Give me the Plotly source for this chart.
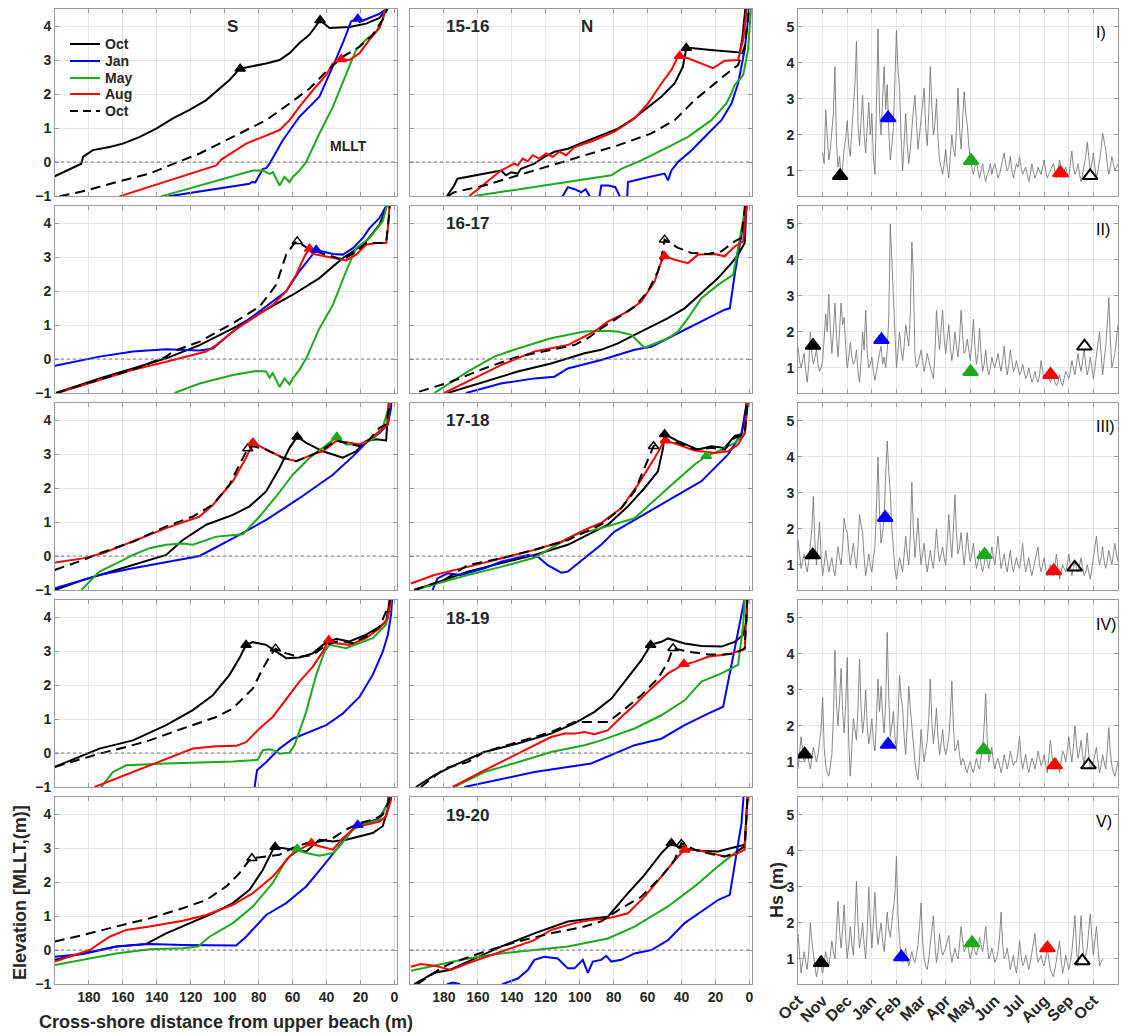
import plotly.graph_objects as go

# ======================= DATA =======================
SURVEY_KEYS = ['OCT', 'JAN', 'MAY', 'AUG', 'OCT2']
SURVEY_NAMES = ['Oct', 'Jan', 'May', 'Aug', 'Oct']
SURVEY_COLORS = ['#000000', '#0000FF', '#1AAA1A', '#FF0000', '#000000']
YEAR_LABELS = ['15-16', '16-17', '17-18', '18-19', '19-20']
ROMAN = ['I)', 'II)', 'III)', 'IV)', 'V)']
MONTHS = ['Oct', 'Nov', 'Dec', 'Jan', 'Feb', 'Mar', 'Apr', 'May', 'Jun', 'Jul', 'Aug', 'Sep', 'Oct']
DIST_TICKS = [0, 20, 40, 60, 80, 100, 120, 140, 160, 180]
ELEV_TICKS = [-1, 0, 1, 2, 3, 4]
HS_TICKS = [1, 2, 3, 4, 5]

# ---- beach profiles: (cross-shore distance m, elevation m MLLT) ----
# 2015-16 South
S15_OCT = [(200.2,-0.42),(184.5,-0.05),(183.5,0.15),(177.7,0.35),(167.8,0.44),(160,0.54),(150,0.74),(140.4,0.98),(130.5,1.28),(120.7,1.53),(110.9,1.82),(103,2.17),(97.2,2.41),(91.3,2.74),(83.4,2.81),(75.6,2.9),(67.7,3.0),(61.8,3.2),(56,3.5),(50,3.75),(43.8,4.17),(38.3,3.94),(26.5,3.97),(16.7,4.07),(8.8,4.24),(4.9,4.48),(2.9,4.8)]
S15_JAN = [(133.1,-1.01),(85.4,-0.64),(84,-0.59),(82,-0.6),(77.5,-0.2),(75.5,-0.18),(73.6,-0.05),(65.8,0.64),(56,1.33),(44.2,1.92),(36.3,2.81),(30.4,3.5),(25.5,4.14),(21.6,4.21),(20.5,4.12),(8.8,4.36),(4.9,4.5),(3,4.8)]
S15_MAY = [(137.4,-1.01),(83.4,-0.25),(77.5,-0.25),(73.6,-0.35),(71.6,-0.3),(67.7,-0.69),(64.8,-0.44),(61.8,-0.59),(59.9,-0.44),(56,-0.25),(52,0),(44.2,0.84),(36.3,1.62),(28.5,2.61),(22.6,3.3),(16.7,3.6),(10.8,3.84),(6.9,4.19),(4.9,4.53),(4,4.8)]
S15_AUG = [(162,-1.01),(105,-0.1),(102,0.07),(95.2,0.3),(87.4,0.54),(77.5,0.74),(67.7,0.94),(61.8,1.23),(56,1.62),(48.1,2.11),(40.2,2.56),(36.3,2.9),(32.4,3.02),(26.5,3.0),(20.6,3.2),(14.7,3.6),(8.8,3.94),(4.9,4.5),(4,4.8)]
S15_OCT2 = [(197.3,-1.01),(181.6,-0.84),(163.9,-0.59),(144.3,-0.34),(128.6,-0.02),(114.8,0.25),(95.2,0.74),(75.6,1.23),(61.8,1.72),(50,2.16),(40.2,2.66),(30.4,3.1),(20.6,3.39),(12.8,3.74),(6.9,4.19),(3.9,4.53),(3,4.8)]
S15_CRESTS = [(90.9,2.74,'OCT'),(43.8,4.17,'OCT'),(21.6,4.21,'JAN'),(31.4,3.02,'AUG')]
# 2015-16 North
N15_OCT = [(178.2,-1),(174,-0.69),(172,-0.49),(146.4,-0.25),(143.4,-0.39),(140.4,-0.3),(136.5,-0.34),(134.6,-0.2),(126.7,-0.05),(120.8,0.15),(114.9,0.3),(107,0.39),(97.2,0.59),(87.4,0.79),(77.5,0.98),(69.6,1.23),(61.8,1.53),(51.9,1.92),(44.1,2.31),(39.2,2.8),(37.2,3.35),(34.2,3.35),(24.4,3.3),(5.7,3.22),(4.3,3.6),(2.8,4.28),(1.8,4.8)]
N15_JAN = [(112,-1.3),(110,-1.0),(107,-0.74),(103,-0.8),(99.2,-0.89),(96.5,-0.8),(94.2,-1.0),(92,-1.4),(89,-1.2),(87.3,-0.69),(83,-0.69),(79,-0.74),(76.5,-1.0),(74,-1.4),(72,-1.0),(71.6,-0.59),(63.7,-0.49),(50,-0.34),(48,-0.54),(46,-0.25),(42.1,0),(34.2,0.34),(24.4,0.84),(16.5,1.23),(10.6,1.72),(6.7,2.31),(2.8,3.3),(0,4.38),(-0.5,4.8)]
N15_MAY = [(162.1,-1),(81.4,-0.39),(75.5,-0.2),(63.7,0.05),(48,0.44),(36.2,0.74),(22.4,1.23),(13.6,1.72),(10.6,2.02),(8.7,2.26),(3.7,2.56),(0.8,3.3),(-0.7,4.38),(-1,4.8)]
N15_AUG = [(165,-1),(156.2,-0.64),(146.4,-0.25),(138.5,-0.05),(136.5,-0.1),(133.6,0.1),(130.6,0.02),(127.7,0.2),(123.8,0.1),(119.8,0.25),(115.9,0.15),(112,0.3),(108,0.2),(103.1,0.44),(91.3,0.64),(79.5,0.89),(67.7,1.28),(59.8,1.72),(51.9,2.31),(46,2.71),(42.1,3.1),(36.2,3.05),(28.3,2.9),(21.4,2.76),(14.6,2.98),(6.7,3.0),(3.7,3.6),(1.8,4.38),(0.8,4.8)]
N15_OCT2 = [(177.8,-1),(174,-0.89),(156.2,-0.69),(136.5,-0.39),(116.9,-0.1),(97.2,0.2),(77.5,0.49),(57.8,0.84),(44.1,1.23),(32.3,1.82),(20.5,2.31),(10.6,2.71),(6.7,2.85),(2.8,3.4),(0.8,4.28),(0.3,4.8)]
N15_CRESTS = [(37.2,3.35,'OCT'),(41.1,3.12,'AUG')]
# 2016-17 South
S16_OCT = [(199.3,-1),(173.8,-0.57),(154.1,-0.28),(134.5,0.02),(114.8,0.41),(95.2,0.9),(75.6,1.45),(59.9,1.89),(44.2,2.38),(36.3,2.72),(30.4,2.97),(24.5,3.16),(16.7,3.46),(8.8,3.95),(4.9,4.44),(3.5,4.8)]
S16_JAN = [(200.2,-0.2),(183.5,-0.03),(173.8,0.07),(154.1,0.22),(134.5,0.29),(114.8,0.25),(107,0.31),(95.2,0.81),(83.4,1.25),(71.7,1.69),(63.8,1.99),(56,2.58),(50,2.97),(46.1,3.21),(36.3,3.09),(30.4,3.07),(24.5,3.26),(18.6,3.56),(14.7,3.85),(8.8,4.15),(4.9,4.5),(3,4.8)]
S16_MAY = [(129.6,-1),(114.8,-0.72),(95.2,-0.47),(81.5,-0.35),(75.6,-0.37),(73.6,-0.55),(71.7,-0.42),(67.7,-0.82),(64.8,-0.57),(61.8,-0.75),(59.9,-0.57),(56,-0.32),(52,0.02),(44.2,0.9),(36.3,1.59),(28.5,2.58),(22.6,3.26),(14.7,3.56),(6.9,4.05),(3.9,4.54),(3,4.8)]
S16_AUG = [(199.3,-1.01),(173.8,-0.62),(154.1,-0.32),(134.5,-0.08),(110.9,0.22),(105,0.41),(95.2,0.81),(83.4,1.2),(71.7,1.59),(63.8,1.99),(57.9,2.48),(53,3.02),(50,3.24),(48.1,3.09),(40.2,3.02),(28.5,2.9),(22.6,3.07),(16.7,3.36),(10.8,3.41),(4.9,3.41),(3.9,3.85),(2.9,4.54),(2.5,4.8)]
S16_OCT2 = [(199.3,-1),(181.6,-0.72),(154.1,-0.32),(134.5,0.07),(130.5,0.22),(114.8,0.51),(95.2,1.05),(79.5,1.54),(69.7,2.18),(63.8,3.07),(58.9,3.41),(57.3,3.46),(50,3.22),(40.2,3.07),(30.4,2.92),(22.6,3.16),(16.7,3.41),(10.8,3.41),(4.9,3.41),(2.9,4.34),(2.5,4.8)]
S16_CRESTS = [(50,3.24,'AUG'),(46.1,3.21,'JAN'),(57.3,3.46,'OCT2')]
# 2016-17 North
N16_OCT = [(177.8,-1),(156.2,-0.67),(136.5,-0.37),(116.9,-0.13),(97.2,0.17),(87.4,0.27),(77.5,0.46),(67.7,0.71),(57.8,0.95),(48,1.2),(38.2,1.49),(28.3,1.94),(18.5,2.38),(10.6,2.82),(6.7,3.07),(2.8,3.41),(1.8,4.4),(1.5,4.8)]
N16_JAN = [(167,-1),(146.4,-0.72),(126.7,-0.57),(114.9,-0.52),(107,-0.28),(87.4,-0.03),(67.7,0.27),(57.8,0.36),(48,0.61),(36.2,0.9),(24.4,1.2),(14.6,1.45),(11.6,1.49),(8.7,2.48),(4.7,3.66),(0.8,4.8)]
N16_MAY = [(185.7,-1),(166,-0.37),(150.3,0.07),(136.5,0.31),(116.9,0.61),(97.2,0.81),(87.4,0.83),(77.5,0.81),(69.6,0.71),(61.8,0.33),(48,0.61),(42.1,0.81),(36.2,1.2),(28.3,1.79),(18.5,2.18),(9.6,2.48),(6.7,3.27),(2.8,4.25),(1.2,4.8)]
N16_AUG = [(179.8,-1),(166,-0.67),(146.4,-0.18),(126.7,0.22),(107,0.41),(91.3,0.81),(83.4,1.1),(71.6,1.4),(63.7,1.69),(55.9,2.28),(51.9,2.87),(50,3.02),(44.1,2.92),(36.2,2.82),(30.3,3.07),(20.5,3.09),(14.6,3.02),(8.7,3.31),(3.7,3.46),(1.8,4.4),(1.5,4.8)]
N16_OCT2 = [(194.6,-0.96),(175.9,-0.67),(156.2,-0.28),(136.5,0.07),(116.9,0.27),(103.1,0.41),(95.2,0.61),(87.4,0.9),(79.5,1.15),(67.7,1.54),(59.8,1.99),(53.9,2.58),(51.9,2.97),(50,3.51),(42.1,3.27),(34.2,3.12),(24.4,3.09),(16.5,3.17),(8.7,3.46),(4.7,3.56),(2.8,4.44),(2.3,4.8)]
N16_CRESTS = [(50,3.02,'AUG'),(50,3.51,'OCT2')]
# 2017-18 South
S17_OCT = [(200.2,-1),(183.5,-0.71),(163.9,-0.41),(134.5,0.03),(124.7,0.47),(110.9,0.92),(95.2,1.21),(85.4,1.46),(75.6,1.9),(67.7,2.59),(61.8,3.18),(57.3,3.51),(52,3.33),(42.2,3.08),(30.4,2.89),(22.6,3.08),(16.7,3.38),(10.8,3.43),(4.9,3.4),(3.3,4.46),(3,4.8)]
S17_JAN = [(200.2,-0.95),(183.5,-0.71),(173.8,-0.56),(154.1,-0.36),(134.5,-0.17),(114.8,0),(95.2,0.52),(75.6,1.06),(56,1.7),(36.3,2.39),(24.5,2.93),(16.7,3.33),(8.8,3.62),(3.9,3.87),(2,4.36),(1.5,4.8)]
S17_MAY = [(184.5,-1),(173.8,-0.46),(162,-0.17),(154.1,0.03),(144.3,0.23),(134.5,0.33),(124.7,0.37),(118.8,0.33),(105,0.57),(95.2,0.62),(89.3,0.64),(79.5,1.16),(69.7,1.75),(59.9,2.39),(50,2.89),(42.2,3.18),(34.4,3.48),(28.5,3.28),(20.6,3.28),(12.8,3.43),(6.9,3.77),(2.9,4.46),(2.5,4.8)]
S17_AUG = [(200.2,-0.19),(183.5,-0.07),(171.8,0.08),(154.1,0.42),(134.5,0.82),(114.8,1.16),(107,1.5),(95.2,2.2),(87.4,2.89),(83.4,3.33),(75.6,3.13),(65.8,2.89),(57.9,2.79),(48.1,2.99),(42.2,3.08),(34.4,3.38),(26.5,3.33),(20.6,3.28),(14.7,3.43),(8.8,3.67),(3.9,3.87),(2.9,4.46),(2.5,4.8)]
S17_OCT2 = [(200.2,-0.41),(183.5,-0.12),(173.8,0.08),(154.1,0.42),(134.5,0.87),(118.8,1.16),(107,1.51),(97.2,2.1),(91.3,2.69),(87.4,3.08),(86.4,3.16),(83.4,3.23),(75.6,3.13),(65.8,2.89),(57.9,2.79),(50,2.94),(42.2,3.13),(34.4,3.4),(28.5,3.33),(20.6,3.23),(14.7,3.43),(8.8,3.77),(4.9,3.87),(2.9,4.46),(2.5,4.8)]
S17_CRESTS = [(86.4,3.16,'OCT2'),(83.4,3.33,'AUG'),(57.3,3.51,'OCT'),(34,3.5,'MAY')]
# 2017-18 North
N17_OCT = [(197.5,-1),(185.7,-0.81),(166,-0.46),(146.4,-0.22),(126.7,0.03),(107,0.33),(95.2,0.62),(83.4,0.92),(71.6,1.46),(61.8,2.0),(53.9,2.49),(50.9,3.18),(50,3.58),(42.1,3.38),(30.3,3.13),(22.4,3.23),(14.6,3.18),(8.7,3.53),(4.7,3.58),(1.8,4.46),(1.5,4.8)]
N17_JAN = [(186.7,-1),(183.8,-0.66),(177.8,-0.51),(170,-0.56),(156.2,-0.36),(146.4,-0.17),(130.6,0.03),(124.7,-0.02),(118.8,-0.27),(110.9,-0.49),(107,-0.46),(97.2,-0.07),(87.4,0.33),(79.5,0.72),(67.7,1.06),(48,1.61),(28.3,2.2),(12.6,2.99),(4.7,3.6),(1,4.46),(0.7,4.8)]
N17_MAY = [(197.5,-1),(166,-0.56),(146.4,-0.32),(126.7,-0.05),(116.9,0.23),(103.1,0.62),(87.4,0.82),(67.7,1.11),(48,2.0),(32.3,2.69),(25.4,2.94),(18.5,3.08),(8.7,3.33),(2.8,3.58),(1,4.46),(0.7,4.8)]
N17_AUG = [(199.5,-0.81),(185.7,-0.56),(166,-0.32),(146.4,-0.07),(126.7,0.18),(110.9,0.42),(97.2,0.77),(87.4,0.97),(75.5,1.41),(65.7,2.1),(55.8,2.89),(50,3.4),(42.1,3.28),(32.3,3.1),(20.5,3.03),(12.6,3.08),(6.7,3.28),(2.8,3.62),(1,4.46),(0.7,4.8)]
N17_OCT2 = [(197.5,-1),(179.8,-0.7),(166,-0.27),(146.4,-0.07),(126.7,0.18),(107,0.47),(87.4,0.92),(75.5,1.41),(67.7,1.9),(61.8,2.59),(56.9,3.13),(56.5,3.23),(50,3.43),(42.1,3.33),(32.3,3.13),(22.4,3.18),(14.6,3.13),(8.7,3.48),(2.8,3.58),(1,4.46),(0.7,4.8)]
N17_CRESTS = [(56.5,3.23,'OCT2'),(49.5,3.4,'AUG'),(50,3.58,'OCT'),(25.4,2.94,'MAY')]
# 2018-19 South
S18_OCT = [(200.2,-0.41),(183.5,-0.07),(173.8,0.13),(154.1,0.37),(134.5,0.82),(118.8,1.26),(107,1.7),(97.2,2.3),(91.3,2.79),(87.4,3.18),(83.4,3.26),(75.6,3.18),(67.7,2.93),(63.8,2.79),(56,2.81),(48.1,2.93),(42.2,3.18),(34.4,3.36),(26.5,3.28),(16.7,3.48),(8.8,3.71),(4.9,3.86),(2.9,4.45),(2.5,4.8)]
S18_JAN = [(82.4,-1),(81,-0.51),(75.6,-0.27),(67.7,0.13),(59.9,0.42),(50,0.62),(40.2,0.82),(30.4,1.16),(20.6,1.65),(12.8,2.3),(6.9,2.98),(3.9,3.47),(2,4.06),(1,4.8)]
S18_MAY = [(172.8,-1),(165.9,-0.56),(158.1,-0.36),(134.5,-0.31),(95.2,-0.25),(80.5,-0.2),(77.5,0.08),(73.6,0.11),(69.7,0.05),(67.7,-0.02),(61.8,0.01),(58.9,0.23),(52,1.21),(46.1,2.3),(41.2,2.98),(38.3,3.18),(28.5,3.08),(20.6,3.23),(12.8,3.38),(4.9,3.78),(2,4.45),(1.7,4.8)]
S18_AUG = [(176.7,-1),(154.1,-0.56),(134.5,-0.17),(118.8,0.13),(105,0.2),(93.3,0.21),(87.4,0.32),(79.5,0.72),(71.7,1.06),(63.8,1.6),(56,2.1),(48.1,2.54),(42.2,2.98),(38.7,3.32),(34.4,3.23),(26.5,3.18),(16.7,3.38),(8.8,3.67),(3.9,3.96),(2,4.5),(1.7,4.8)]
S18_OCT2 = [(200.2,-0.41),(183.5,-0.17),(173.8,-0.02),(158.1,0.18),(144.3,0.37),(124.7,0.72),(105,1.06),(95.2,1.31),(83.4,1.9),(77.5,2.49),(73.6,2.83),(70.1,3.07),(63.8,2.93),(56,2.83),(48.1,2.88),(40.2,3.18),(32.4,3.3),(24.5,3.23),(16.7,3.43),(8.8,3.71),(2.9,4.4),(2.5,4.8)]
S18_CRESTS = [(87.4,3.18,'OCT'),(70.1,3.07,'OCT2'),(38.7,3.32,'AUG')]
# 2018-19 North
N18_OCT = [(196.5,-1),(185.7,-0.66),(175.9,-0.41),(156.2,0.03),(136.5,0.28),(116.9,0.57),(103.1,0.87),(91.3,1.21),(81.3,1.6),(71.6,2.24),(63.7,2.73),(58.2,3.18),(51.9,3.27),(48,3.37),(38.2,3.22),(28.3,3.15),(16.5,3.13),(8.7,3.27),(3.7,3.47),(1.8,3.86),(1,4.8)]
N18_JAN = [(168,-1),(146.4,-0.76),(126.7,-0.56),(93.3,-0.31),(81.4,-0.07),(67.7,0.23),(51.9,0.42),(38.2,0.82),(24.4,1.16),(15.5,1.36),(2.8,4.55),(2.5,4.8)]
N18_MAY = [(173.9,-1),(156.2,-0.56),(136.5,-0.27),(116.9,0.03),(97.2,0.23),(87.4,0.37),(67.7,0.72),(51.9,1.11),(38.2,1.55),(28.3,2.1),(16.5,2.34),(6.7,2.59),(3.7,3.76),(2.5,4.8)]
N18_AUG = [(174.9,-1),(156.2,-0.51),(136.5,-0.02),(116.9,0.47),(108.8,0.57),(103.1,0.57),(97.2,0.62),(91.3,0.55),(83.4,0.67),(75.5,1.06),(67.7,1.41),(57.8,1.9),(48,2.34),(39.2,2.59),(32.3,2.68),(24.4,2.83),(16.5,2.88),(10.6,2.93),(2.8,3.05),(1.2,4.8)]
N18_OCT2 = [(193.6,-1),(179.8,-0.46),(166,-0.27),(156.2,0.03),(136.5,0.32),(116.9,0.62),(103.1,0.91),(83.4,0.91),(75.5,1.21),(63.7,1.7),(53.9,2.19),(48,2.68),(45,3.08),(36.2,2.98),(24.4,2.9),(14.6,2.9),(8.7,2.93),(2.8,3.08),(1,4.8)]
N18_CRESTS = [(58.2,3.18,'OCT'),(45,3.08,'OCT2'),(38.6,2.62,'AUG')]
# 2019-20 South
S19_OCT = [(200.2,-0.29),(183.5,-0.1),(163.9,0.1),(146.2,0.18),(134.5,0.49),(118.8,0.84),(107,1.08),(95.2,1.38),(85.4,1.77),(77.5,2.36),(71.7,2.95),(70.3,3.03),(65.8,3.0),(59.9,2.95),(52,2.9),(44.2,3.24),(36.3,3.19),(28.5,3.24),(20.6,3.34),(12.8,3.44),(6.9,3.64),(2.9,4.32),(2.5,4.8)]
S19_JAN = [(200.2,-0.2),(183.5,-0.12),(163.9,0.1),(144.3,0.18),(124.7,0.15),(105,0.15),(93.3,0.13),(87.4,0.39),(75.6,1.03),(63.8,1.38),(52,1.87),(42.2,2.46),(34.4,2.95),(28.5,3.34),(22.6,3.68),(16.7,3.73),(8.8,3.88),(3.9,4.32),(3,4.8)]
S19_MAY = [(200.2,-0.44),(183.5,-0.28),(163.9,-0.1),(144.3,0.02),(124.7,0.05),(115.8,0.1),(109,0.39),(95.2,0.79),(83.4,1.28),(71.7,1.97),(63.8,2.65),(57.9,2.95),(52,2.85),(44.2,2.77),(36.3,2.85),(32.4,3.05),(24.5,3.54),(16.7,3.73),(8.8,3.83),(2.9,4.42),(2.5,4.8)]
S19_AUG = [(200.2,-0.34),(179.6,0),(167.8,0.39),(158,0.59),(144.3,0.69),(124.7,0.86),(110.9,1.03),(95.2,1.33),(83.4,1.67),(71.7,2.16),(61.8,2.75),(56,2.95),(48.9,3.14),(44.2,3.05),(36.3,2.95),(30.4,3.29),(22.6,3.63),(16.7,3.68),(8.8,3.78),(4.9,3.93),(2,4.42),(1.7,4.8)]
S19_OCT2 = [(200.2,0.25),(183.5,0.44),(163.9,0.69),(144.3,0.93),(124.7,1.23),(110.9,1.47),(99.1,1.87),(91.3,2.26),(85.4,2.65),(84,2.7),(75.6,2.75),(67.7,2.8),(59.9,3.0),(52,3.14),(44.2,3.19),(36.3,3.29),(28.5,3.54),(20.6,3.73),(12.8,3.83),(6.9,3.98),(2.9,4.42),(2.5,4.8)]
S19_CRESTS = [(84,2.7,'OCT2'),(70.3,3.03,'OCT'),(57.3,2.97,'MAY'),(48.9,3.14,'AUG'),(21.6,3.68,'JAN')]
# 2019-20 North
N19_OCT = [(197.5,-1),(185.7,-0.67),(176.9,-0.59),(166,-0.34),(146.4,0.1),(126.7,0.49),(107,0.84),(97.2,0.9),(83.4,0.98),(71.6,1.67),(61.8,2.21),(51.9,2.85),(46,3.14),(42.1,3.03),(36.2,2.97),(28.3,2.92),(18.5,2.9),(10.6,3.0),(2.8,3.1),(0.8,4.8)]
N19_JAN = [(180,-1.2),(177.8,-1),(174.9,-0.96),(171,-1),(165,-1.5),(150,-1.5),(145.4,-1),(136.5,-0.84),(130.6,-0.59),(126.7,-0.29),(120.8,-0.2),(113,-0.25),(107,-0.54),(103.1,-0.54),(98.2,-0.29),(95.2,-0.67),(92.3,-0.34),(87.4,-0.29),(84.4,-0.17),(81.4,-0.34),(75.5,-0.29),(67.7,-0.1),(57.8,0),(48,0.29),(38.2,0.79),(28.3,1.13),(18.5,1.47),(11.6,1.62),(8.7,2.46),(4.7,3.73),(3,4.8)]
N19_MAY = [(199.5,-0.61),(185.7,-0.46),(166,-0.25),(146.4,-0.1),(126.7,0),(107,0.1),(83.4,0.34),(67.7,0.69),(48,1.28),(32.3,1.87),(18.5,2.46),(8.7,2.85),(2.8,3.05),(0.8,4.8)]
N19_AUG = [(199.5,-0.49),(193.6,-0.41),(185.7,-0.46),(175.9,-0.59),(166,-0.39),(146.4,-0.05),(126.7,0.29),(116.9,0.59),(103.1,0.79),(93.3,0.88),(83.4,0.93),(71.6,1.08),(61.8,1.57),(51.9,2.16),(42.1,2.75),(38.2,2.95),(32.3,2.95),(22.4,2.85),(14.6,2.75),(8.7,2.8),(2.8,2.95),(0.8,4.8)]
N19_OCT2 = [(195.6,-1),(181.8,-0.54),(175.9,-0.39),(156.2,-0.05),(136.5,0.25),(116.9,0.49),(97.2,0.69),(87.4,0.84),(75.5,1.23),(63.7,1.57),(51.9,2.16),(44.1,2.65),(40.1,3.14),(32.3,2.95),(22.4,2.82),(14.6,2.75),(8.7,2.85),(2.8,3.05),(0.8,4.8)]
N19_CRESTS = [(46,3.14,'OCT'),(40.1,3.12,'OCT2'),(38.2,2.95,'AUG')]

# ---- significant wave height Hs (m), sampled every 1/16 month (months after 1 Oct) ----
HS_STEP = 1 / 16
HS1_START = 1.0
HS1 = [1.5,1.2,2.7,1.9,1.3,1.6,2.1,2.6,3.9,1.8,1.1,1.4,0.85,1.1,1.6,1.9,
       2.4,1.7,1.4,2.2,2.8,3.4,4.6,2.3,1.7,2.4,3.1,2.0,1.5,2.2,2.9,2.0,
       2.6,1.4,0.9,2.8,4.95,2.6,2.0,3.0,3.9,2.7,3.4,2.1,1.3,1.7,2.2,3.5,
       4.9,3.8,3.3,1.9,1.0,1.8,2.6,1.7,1.2,1.6,2.3,2.7,3.1,2.2,1.6,2.0,
       2.5,2.9,3.3,2.2,1.7,2.6,3.9,2.8,2.0,2.3,3.0,1.9,1.3,1.1,0.9,1.2,
       1.6,1.1,0.8,1.4,2.0,1.6,1.4,2.1,3.3,2.2,1.6,2.4,3.2,2.6,2.3,1.7,
       1.3,1.1,0.9,1.1,1.3,1.0,0.8,1.0,1.2,0.9,0.7,0.9,1.0,1.2,0.9,1.1,
       1.2,1.0,0.8,0.9,1.1,1.3,1.5,1.2,1.0,1.1,1.4,1.0,0.8,1.0,1.2,1.1,
       1.4,1.1,0.9,1.0,1.1,0.9,0.7,0.9,1.2,1.0,0.8,0.9,1.1,1.0,0.9,1.1,
       1.3,1.0,0.8,0.9,1.0,1.1,1.2,1.0,0.8,1.0,1.3,1.1,0.9,1.0,1.1,0.9,
       0.8,1.2,1.55,1.1,0.9,1.0,1.2,0.9,0.7,0.9,1.1,1.4,1.8,1.3,1.0,1.2,
       1.5,1.1,0.8,1.0,1.3,1.6,2.05,1.8,1.6,1.2,0.9,1.1,1.4,1.2,1.0,1.1,1.2]
HS2_START = 0.0
HS2 = [1.6,1.2,1.0,1.2,1.4,0.9,0.6,1.1,2.0,1.4,1.1,1.3,1.5,1.1,0.9,1.0,
       1.2,1.8,2.5,2.0,3.05,2.1,1.4,2.0,2.8,1.9,1.3,2.0,2.8,2.2,2.4,1.6,
       1.0,1.3,1.7,1.3,1.1,1.2,1.5,0.9,0.6,1.2,2.0,1.5,2.6,1.4,1.0,1.1,
       1.3,0.9,0.65,0.9,1.2,1.4,1.6,1.1,1.3,1.0,1.5,2.4,5.0,4.0,3.0,1.7,
       1.0,1.5,2.0,1.5,1.2,1.6,2.2,1.9,1.6,2.5,4.5,3.5,1.4,1.0,1.1,1.3,
       1.5,1.2,0.9,1.1,1.4,1.2,1.0,0.8,0.7,1.4,2.6,2.0,1.5,2.1,2.6,1.8,
       1.4,1.8,2.2,1.6,1.2,1.5,2.0,1.6,1.3,1.8,2.6,1.9,1.4,1.5,1.8,1.5,
       1.2,1.7,2.35,1.6,1.1,1.4,2.1,1.4,0.9,1.1,1.5,1.0,0.8,1.0,1.3,1.1,
       1.0,1.2,1.4,1.1,0.9,1.2,1.6,1.1,0.8,1.1,1.5,1.2,0.9,1.0,1.2,1.0,
       0.8,0.9,1.1,0.9,0.7,0.8,1.0,0.8,0.6,0.7,0.9,0.7,0.6,0.8,1.2,0.9,
       0.7,0.8,0.9,0.7,0.6,0.7,0.8,0.6,0.5,0.6,0.8,0.6,0.5,0.7,0.9,0.8,
       0.7,0.9,1.2,1.0,0.8,1.1,1.4,1.1,0.9,1.2,1.5,1.1,0.8,1.0,1.3,1.0,
       0.7,1.0,1.4,1.7,2.0,1.3,0.8,1.2,1.6,2.2,2.95,1.8,1.0,1.2,1.4,1.8,2.2]
HS3_START = 0.0
HS3 = [1.7,1.2,0.9,1.1,1.3,1.0,0.8,1.1,1.5,2.0,2.9,1.6,1.0,1.5,2.2,1.2,
       0.7,1.0,1.4,1.1,0.8,1.0,1.2,0.9,0.7,1.1,1.5,1.2,1.0,1.5,2.3,2.0,
       1.9,1.4,1.0,1.3,1.6,1.2,0.9,1.5,2.4,2.1,1.9,1.2,0.7,1.0,1.3,1.0,
       0.8,1.2,1.5,2.6,4.0,2.4,1.6,1.9,2.3,3.5,4.45,3.6,3.0,2.0,1.4,0.9,
       0.6,0.9,1.2,1.0,0.8,1.3,1.8,1.3,1.0,1.8,3.3,2.0,1.2,1.7,2.3,1.5,
       1.0,1.3,1.6,1.1,0.8,1.1,1.4,1.1,0.9,1.4,2.0,1.4,1.1,1.3,1.5,1.2,
       1.0,1.6,2.4,1.7,1.2,2.0,2.95,1.9,1.3,1.5,1.9,1.4,1.0,1.4,1.9,1.4,
       1.1,1.3,1.6,1.2,0.9,1.1,1.4,1.0,0.8,1.0,1.3,1.1,0.9,1.2,1.5,1.2,
       1.0,1.4,1.8,1.3,0.9,1.1,1.3,1.0,0.8,1.1,1.4,1.0,0.8,1.0,1.2,1.0,
       0.9,1.2,1.6,1.1,0.8,1.0,1.2,0.9,0.7,0.9,1.1,1.3,1.5,1.0,0.8,1.0,
       1.2,0.9,0.7,0.9,1.0,0.8,0.7,1.0,1.3,0.9,0.6,0.8,1.0,0.9,0.8,1.0,
       1.3,1.0,0.7,0.9,1.1,0.9,0.8,1.0,1.2,0.9,0.7,0.8,1.0,0.8,0.6,0.9,
       1.2,1.5,1.8,1.3,1.0,1.2,1.5,1.1,0.9,1.1,1.4,1.2,1.0,1.3,1.6,1.3,1.1]
HS4_START = 0.0
HS4 = [0.8,1.2,1.7,1.3,1.0,1.1,1.3,1.0,0.8,1.1,1.4,1.2,1.0,1.2,1.5,1.9,
       2.8,1.4,0.9,0.7,0.6,0.9,1.2,2.2,4.1,2.6,2.0,2.7,3.6,2.4,1.8,2.6,
       3.9,1.5,0.6,1.4,2.2,1.9,1.6,2.5,3.85,2.5,1.8,2.2,3.0,2.0,1.5,1.8,
       2.2,1.6,1.3,2.2,3.3,2.4,3.1,2.3,1.8,2.7,4.6,2.8,1.7,2.0,2.4,1.7,
       1.3,2.2,3.4,2.8,2.5,1.7,1.2,2.0,3.1,2.5,2.0,1.4,1.0,0.7,0.5,1.1,
       1.9,1.4,1.0,1.3,1.6,2.2,3.3,2.1,1.5,1.9,2.5,1.7,1.2,1.5,1.9,1.4,
       1.2,1.4,1.7,2.3,3.25,2.0,1.3,1.4,1.6,1.2,0.9,1.1,1.0,0.8,0.7,0.9,
       1.0,0.8,0.7,0.9,1.1,0.9,0.8,1.1,1.4,2.0,2.9,1.6,1.0,1.2,1.4,1.0,
       0.8,1.0,1.1,0.9,0.7,0.9,1.2,1.0,0.8,1.0,1.3,1.1,0.9,1.0,1.0,1.3,
       1.7,1.1,0.8,1.0,1.2,0.9,0.7,0.9,1.1,1.0,0.8,1.0,1.3,1.1,0.9,1.0,
       1.2,0.9,0.7,1.1,1.6,1.2,0.9,1.0,1.1,0.9,0.7,1.0,1.3,1.2,1.0,1.3,
       1.7,1.3,1.0,1.4,2.0,1.5,1.1,1.3,1.6,1.2,0.9,1.3,1.8,1.2,0.8,0.9,
       1.0,1.2,1.4,1.0,0.7,0.9,1.2,1.0,0.8,1.3,1.95,1.3,0.9,0.7,0.6,0.8,1.0]
HS5_START = 0.0
HS5 = [1.7,1.1,0.6,0.9,1.2,0.9,0.7,1.2,2.0,1.5,1.1,0.8,0.5,0.7,1.0,0.8,
       0.6,0.9,1.2,1.0,0.8,1.1,1.5,1.2,1.0,1.7,2.6,1.8,1.3,1.8,2.5,1.6,
       1.0,1.4,1.9,1.4,1.1,2.0,3.15,2.0,1.3,1.6,2.0,1.4,1.0,1.8,3.0,2.0,
       1.3,2.0,2.85,1.9,1.4,1.7,2.0,1.5,1.2,1.7,2.3,1.8,1.6,2.0,2.4,2.8,
       3.85,2.2,1.5,1.1,0.9,1.1,1.3,1.0,0.8,1.0,1.2,1.0,0.9,1.1,1.4,1.9,
       2.55,1.5,1.0,0.8,0.7,1.0,1.4,1.8,2.2,1.4,0.9,1.2,1.7,1.3,1.1,1.2,
       1.3,1.5,1.65,1.2,0.9,1.1,1.3,1.1,1.0,1.4,1.9,1.5,1.2,1.3,1.5,1.2,
       1.0,1.2,1.4,1.2,1.1,1.3,1.6,1.4,1.2,1.5,1.9,1.4,1.0,1.1,1.3,1.1,
       0.9,1.0,1.2,1.6,2.3,1.4,1.0,1.1,1.3,1.0,0.7,0.9,1.1,0.8,0.6,1.0,
       1.5,1.1,0.8,0.9,1.1,0.9,0.7,0.9,1.2,1.4,1.7,1.2,0.9,1.0,1.1,0.9,
       0.8,1.0,1.3,1.0,0.7,0.6,0.5,0.7,1.0,1.2,1.5,1.0,0.6,0.8,1.1,0.9,
       0.7,0.9,1.2,1.7,2.2,1.3,0.8,1.5,2.2,1.4,1.0,1.1,1.3,1.8,2.25,1.6,
       1.1,1.5,1.9,1.3,0.8,0.9,1.0]
# survey dates (month index) and Hs at survey time
HS1_SURVEYS = [(1.71,0.86,'OCT'),(3.66,2.47,'JAN'),(7.03,1.28,'MAY'),(10.66,0.94,'AUG'),(11.87,0.86,'OCT2')]
HS2_SURVEYS = [(0.61,1.62,'OCT'),(3.39,1.78,'JAN'),(7.01,0.89,'MAY'),(10.26,0.81,'AUG'),(11.64,1.6,'OCT2')]
HS3_SURVEYS = [(0.6,1.27,'OCT'),(3.54,2.31,'JAN'),(7.58,1.28,'MAY'),(10.39,0.83,'AUG'),(11.24,0.93,'OCT2')]
HS4_SURVEYS = [(0.27,1.21,'OCT'),(3.66,1.48,'JAN'),(7.54,1.33,'MAY'),(10.43,0.91,'AUG'),(11.8,0.91,'OCT2')]
HS5_SURVEYS = [(0.94,0.89,'OCT'),(4.2,1.05,'JAN'),(7.07,1.44,'MAY'),(10.13,1.3,'AUG'),(11.55,0.94,'OCT2')]

# ======================= assemble =======================
SOUTH = [
    [S15_OCT, S15_JAN, S15_MAY, S15_AUG, S15_OCT2],
    [S16_OCT, S16_JAN, S16_MAY, S16_AUG, S16_OCT2],
    [S17_OCT, S17_JAN, S17_MAY, S17_AUG, S17_OCT2],
    [S18_OCT, S18_JAN, S18_MAY, S18_AUG, S18_OCT2],
    [S19_OCT, S19_JAN, S19_MAY, S19_AUG, S19_OCT2],
]
NORTH = [
    [N15_OCT, N15_JAN, N15_MAY, N15_AUG, N15_OCT2],
    [N16_OCT, N16_JAN, N16_MAY, N16_AUG, N16_OCT2],
    [N17_OCT, N17_JAN, N17_MAY, N17_AUG, N17_OCT2],
    [N18_OCT, N18_JAN, N18_MAY, N18_AUG, N18_OCT2],
    [N19_OCT, N19_JAN, N19_MAY, N19_AUG, N19_OCT2],
]
S_CRESTS = [S15_CRESTS, S16_CRESTS, S17_CRESTS, S18_CRESTS, S19_CRESTS]
N_CRESTS = [N15_CRESTS, N16_CRESTS, N17_CRESTS, N18_CRESTS, N19_CRESTS]
HS_SERIES = [(HS1_START, HS1), (HS2_START, HS2), (HS3_START, HS3), (HS4_START, HS4), (HS5_START, HS5)]
HS_MARKS = [HS1_SURVEYS, HS2_SURVEYS, HS3_SURVEYS, HS4_SURVEYS, HS5_SURVEYS]

COLOR_OF = dict(zip(SURVEY_KEYS, SURVEY_COLORS))

# ======================= layout geometry =======================
W, H = 1125, 1034
FONT = 'Liberation Sans, Arial, Helvetica, sans-serif'
TXT = '#262626'
COLX = [(55, 397), (410, 752), (798, 1118)]
ROW_TOP0, ROW_H, ROW_STEP = 9, 187, 197


def xdom(c):
    return [COLX[c][0] / W, COLX[c][1] / W]


def ydom(r):
    top = ROW_TOP0 + ROW_STEP * r
    return [1 - (top + ROW_H) / H, 1 - top / H]


def ax_id(r, c):
    return r * 3 + c + 1


fig = go.Figure()
layout = dict(width=W, height=H, margin=dict(l=0, r=0, t=0, b=0, autoexpand=False),
              paper_bgcolor='white', plot_bgcolor='white',
              font=dict(family=FONT, color=TXT),
              showlegend=False, shapes=[], annotations=[])

common_axis = dict(showline=True, linecolor='#9a9a9a', linewidth=1, mirror='ticks',
                   ticks='inside', ticklen=4, tickcolor='#9a9a9a', automargin=False,
                   showgrid=True, gridcolor='#e6e6e6', gridwidth=1, zeroline=False,
                   tickfont=dict(family=FONT, size=14, weight='bold', color=TXT))

for r in range(5):
    for c in range(3):
        i = ax_id(r, c)
        xa = 'xaxis' if i == 1 else f'xaxis{i}'
        ya = 'yaxis' if i == 1 else f'yaxis{i}'
        xr = 'x' if i == 1 else f'x{i}'
        yr = 'y' if i == 1 else f'y{i}'
        if c < 2:
            layout[xa] = dict(common_axis, domain=xdom(c), anchor=yr, range=[200, -1.5],
                              tickvals=DIST_TICKS, showticklabels=(r == 4))
            layout[ya] = dict(common_axis, domain=ydom(r), anchor=xr, range=[-1, 4.5],
                              tickvals=ELEV_TICKS, showticklabels=(c == 0))
            layout['shapes'].append(dict(type='line', xref=f'{xr} domain', yref=yr,
                                         x0=0, x1=1, y0=0, y1=0,
                                         line=dict(color='#777777', width=1, dash='dot'), layer='above'))
            profiles = SOUTH[r] if c == 0 else NORTH[r]
            crests = S_CRESTS[r] if c == 0 else N_CRESTS[r]
            for k, key in enumerate(SURVEY_KEYS):
                pts = profiles[k]
                fig.add_trace(go.Scatter(
                    x=[p[0] for p in pts], y=[p[1] for p in pts], mode='lines',
                    line=dict(color=COLOR_OF[key], width=2, dash='10px,6px' if key == 'OCT2' else 'solid'),
                    name=SURVEY_NAMES[k], showlegend=False,
                    xaxis=xr, yaxis=yr, hoverinfo='skip'))
            for (cx, cy, key) in crests:
                fig.add_trace(go.Scatter(
                    x=[cx], y=[cy], mode='markers',
                    marker=dict(symbol='triangle-up-open' if key == 'OCT2' else 'triangle-up',
                                size=9, color=COLOR_OF[key], line=dict(width=1.5, color=COLOR_OF[key])),
                    showlegend=False, xaxis=xr, yaxis=yr, hoverinfo='skip'))
        else:
            layout[xa] = dict(common_axis, domain=xdom(c), anchor=yr, range=[0, 13],
                              tickvals=list(range(13)), ticktext=MONTHS, tickangle=-45,
                              showticklabels=(r == 4))
            layout[xa]['tickfont'] = dict(family=FONT, size=16, weight='bold', color=TXT)
            layout[ya] = dict(common_axis, domain=ydom(r), anchor=xr, range=[0.3, 5.5],
                              tickvals=HS_TICKS, showticklabels=True)
            start, vals = HS_SERIES[r]
            fig.add_trace(go.Scatter(
                x=[start + j * HS_STEP for j in range(len(vals))], y=vals, mode='lines',
                line=dict(color='#7a7a7a', width=0.9), showlegend=False,
                xaxis=xr, yaxis=yr, hoverinfo='skip'))
            for (mx, my, key) in HS_MARKS[r]:
                fig.add_trace(go.Scatter(
                    x=[mx], y=[my], mode='markers',
                    marker=dict(symbol='triangle-up-open' if key == 'OCT2' else 'triangle-up',
                                size=13, color=COLOR_OF[key], line=dict(width=2, color=COLOR_OF[key])),
                    showlegend=False, xaxis=xr, yaxis=yr, hoverinfo='skip'))


def ann(text, px, py, size, bold=True, xanchor='center', yanchor='middle', angle=0):
    layout['annotations'].append(dict(
        text=text, x=px / W, y=1 - py / H, xref='paper', yref='paper', showarrow=False,
        xanchor=xanchor, yanchor=yanchor, textangle=angle,
        font=dict(family=FONT, size=size, color=TXT if bold else '#000000',
                  weight='bold' if bold else 'normal')))


# legend (first panel): line samples and labels
LEG_Y = [44, 61, 78, 94, 111]
for k, key in enumerate(SURVEY_KEYS):
    layout['shapes'].append(dict(type='line', xref='paper', yref='paper',
                                 x0=70 / W, x1=100 / W, y0=1 - LEG_Y[k] / H, y1=1 - LEG_Y[k] / H,
                                 line=dict(color=COLOR_OF[key], width=2,
                                           dash='8px,5px' if key == 'OCT2' else 'solid')))
    ann(SURVEY_NAMES[k], 103, LEG_Y[k], 14, xanchor='left')

ann('S', 232, 27, 17)
ann('N', 587, 27, 17)
ann('MLLT', 348, 146, 14)
for r in range(5):
    ann(YEAR_LABELS[r], 444, 27 + ROW_STEP * r, 17, xanchor='left')
    ann(ROMAN[r], 1094, 33 + ROW_STEP * r, 16, bold=False, xanchor='left')
ann('Elevation [MLLT,(m)]', 20, 893, 18, angle=-90)
ann('Hs (m)', 777, 890, 18, angle=-90)
ann('Cross-shore distance from upper beach (m)', 226, 1022, 18)

fig.update_layout(**layout)
fig.write_html('out.html')
